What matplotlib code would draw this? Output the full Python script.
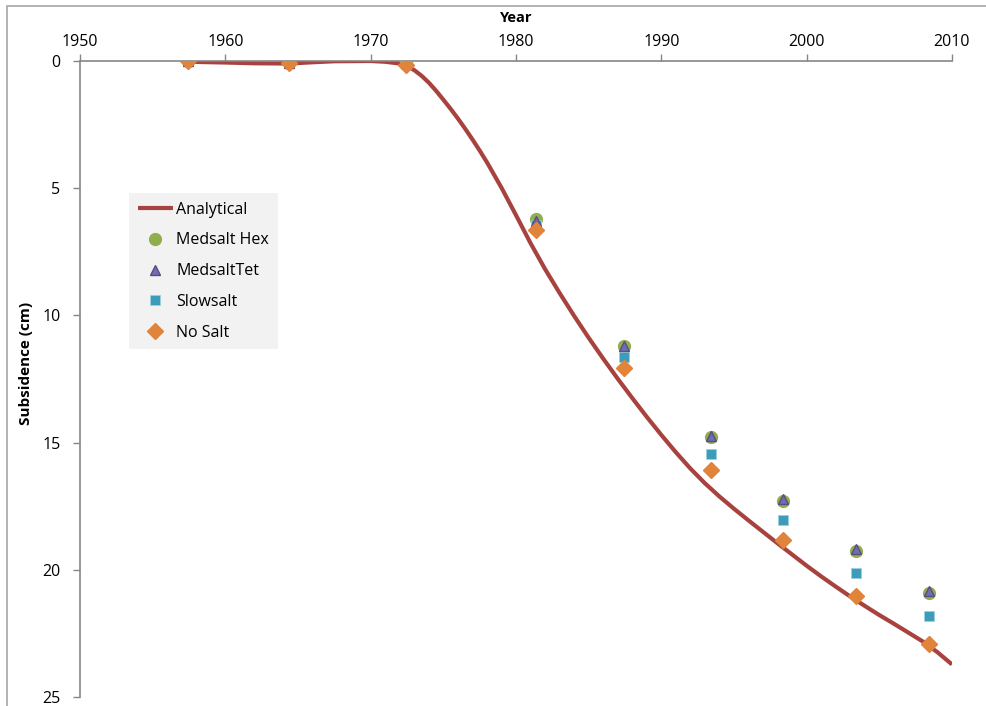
import matplotlib.pyplot as plt
from matplotlib.patches import Rectangle

# sample years of the model runs
years = [1957.4, 1964.4, 1972.4, 1981.4, 1987.4, 1993.4, 1998.4, 2003.4, 2008.4]

# subsidence (cm) for each model
medsalt_hex = [0.0, 0.09, 0.05, 6.21, 11.2, 14.79, 17.29, 19.26, 20.93]
medsalt_tet = [0.0, 0.09, 0.08, 6.27, 11.2, 14.75, 17.21, 19.18, 20.84]
slowsalt = [0.0, 0.09, 0.12, 6.43, 11.64, 15.45, 18.05, 20.12, 21.83]
no_salt = [0.0, 0.09, 0.16, 6.64, 12.06, 16.07, 18.83, 21.04, 22.91]

# analytical curve
ana_years = [1957.4, 1960, 1962, 1964.4, 1966, 1967.5, 1970, 1971, 1972, 1972.4,
             1973, 1973.5, 1974, 1974.5, 1975, 1975.5, 1976, 1976.5, 1977, 1977.5,
             1978, 1979, 1980, 1981, 1982, 1983, 1984, 1985, 1986, 1987, 1988,
             1989, 1990, 1991, 1992, 1993, 1994, 1995, 1996, 1997, 1998, 1999,
             2000, 2001, 2002, 2003, 2004, 2005, 2006, 2007, 2008, 2009, 2010]
ana_subs = [0.03, 0.06, 0.09, 0.10, 0.05, 0.01, 0.0, 0.03, 0.10, 0.17,
            0.36, 0.58, 0.85, 1.17, 1.52, 1.88, 2.26, 2.66, 3.08, 3.52,
            3.98, 4.98, 6.06, 7.16, 8.18, 9.12, 10.02, 10.88, 11.70, 12.49, 13.25,
            13.99, 14.70, 15.38, 16.02, 16.60, 17.12, 17.60, 18.06, 18.51, 18.96, 19.40,
            19.84, 20.26, 20.66, 21.05, 21.42, 21.78, 22.12, 22.47, 22.82, 23.24, 23.72]

plt.rcParams['font.family'] = ['Open Sans', 'DejaVu Sans']

fig = plt.figure(figsize=(9.86, 7.06), dpi=100)
ax = fig.add_axes([80/986, 1 - 697/706, 872/986, 636/706])

# outer chart frame
fig.patches.append(Rectangle((7/986, -0.1), 1.2, 1 - 6/706 + 0.1, transform=fig.transFigure,
                             fill=False, edgecolor='#a6a6a6', linewidth=1.2))

ax.plot(ana_years, ana_subs, color='#a8423f', linewidth=3, label='Analytical',
        solid_capstyle='butt', zorder=2)
ax.plot(years, medsalt_hex, 'o', color='#8fae4f', markersize=8.5, linestyle='none',
        label='Medsalt Hex', zorder=3)
ax.plot(years, medsalt_tet, '^', markerfacecolor='#6b6fb8', markeredgecolor='#5f4a7c',
        markersize=7, linestyle='none', label='MedsaltTet', zorder=4)
ax.plot(years, slowsalt, 's', markerfacecolor='#3d9cb9', markeredgecolor='#9fd0dd',
        markeredgewidth=0.6, markersize=7, linestyle='none', label='Slowsalt', zorder=3)
ax.plot(years, no_salt, 'D', color='#e0843c', markersize=8, linestyle='none',
        label='No Salt', zorder=5)

ax.set_xlim(1950, 2010)
ax.set_ylim(25, 0)
ax.set_xticks([1950, 1960, 1970, 1980, 1990, 2000, 2010])
ax.set_yticks([0, 5, 10, 15, 20, 25])

ax.xaxis.tick_top()
for s in ['right', 'bottom']:
    ax.spines[s].set_visible(False)
for s in ['left', 'top']:
    ax.spines[s].set_color('#868686')
    ax.spines[s].set_linewidth(1.2)
ax.tick_params(axis='both', colors='#868686', labelcolor='black', length=5,
               width=1, labelsize=11.5, direction='out')
ax.tick_params(axis='x', pad=3)
ax.tick_params(axis='y', pad=9)

fig.text(516/986, 1 - 18/706, 'Year', fontweight='bold', fontsize=10.5,
         ha='center', va='center')
ax.set_ylabel('Subsidence (cm)', fontweight='bold', fontsize=11)
ax.yaxis.set_label_coords(-47/872, (697 - 363)/636)

leg = ax.legend(loc='upper left', bbox_to_anchor=(129/986, 1 - 193/706),
                bbox_transform=fig.transFigure, fontsize=11.5, frameon=True,
                facecolor='#f2f2f2', edgecolor='none', framealpha=1, fancybox=False,
                handlelength=2.2, handletextpad=0.2, labelspacing=0.92,
                borderpad=0.55, borderaxespad=0)

fig.savefig('out.png', dpi=100)
